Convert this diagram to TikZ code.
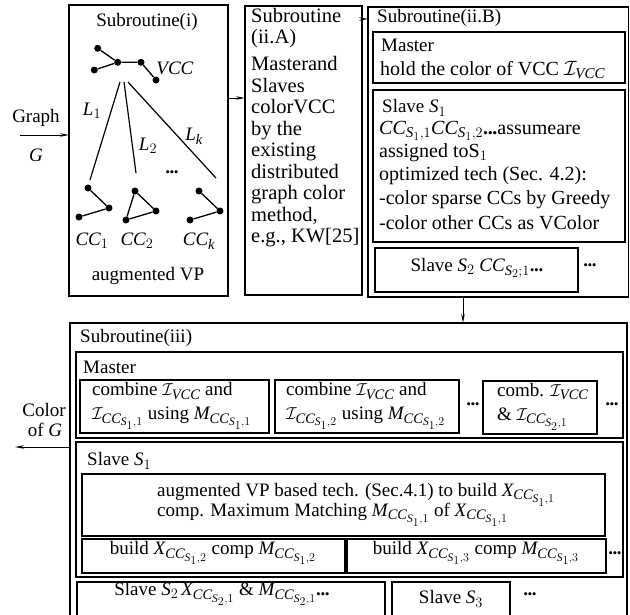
\documentclass[tikz,border=0pt]{standalone}
\usepackage{fontspec}
\usepackage{amsmath}
\setmainfont{Liberation Serif}
\DeclareMathSizes{19}{19}{14.5}{11.5}
\DeclareMathSizes{20}{20}{15}{12}
\usetikzlibrary{arrows.meta}
\newcommand\itx[1]{\textit{#1}}
\newcommand\vI{\mathcal{I}}
\newcommand\ccsub[2]{\itx{CC}_{\itx{S}_{#1},#2}}
\newcommand\mydots{\textbf{.\kern-0.02em.\kern-0.02em.}}
\newcommand\bx[6]{\node[#6,anchor=north west,minimum width={(#4-#2)*1pt},minimum height={(#5-#3)*1pt}] (#1) at (#2,#3) {};}
\tikzset{
  box/.style={draw, line width=1.6pt, inner sep=0pt, outer sep=0pt},
  ibox/.style={draw, line width=2pt, inner sep=0pt, outer sep=0pt},
  txt/.style={inner sep=0pt, font=\fontsize{19}{22}\selectfont},
  btxt/.style={inner sep=0pt, font=\fontsize{20}{22}\selectfont},
  dot/.style={circle, fill, inner sep=0pt, minimum size=7pt},
  edge/.style={line width=1.3pt},
  arr/.style={-{Stealth[length=9pt,width=3.5pt]}, line width=1pt}
}
\begin{document}
\begin{tikzpicture}[x=1pt,y=-1pt]
\useasboundingbox (0,0) rectangle (630,614);
\begin{scope}
\clip (0,0) rectangle (630,614);
% ---------- Subroutine (i)
\bx{bi}{69}{5}{228}{296}{box}
\node[txt] (ti) at (147,22) {Subroutine(i)};
\node[dot] (v1) at (97.7,48.3) {};
\node[dot] (v2) at (94.3,70) {};
\node[dot] (v3) at (117.7,62.3) {};
\node[dot] (v4) at (141,62.3) {};
\node[dot] (v5) at (156,80) {};
\draw[edge] (v1) -- (v3) (v2) -- (v3) (v3) -- (v4) (v4) -- (v5);
\node[txt] (tvcc) at (175,68) {\itx{VCC}};
\coordinate (l1a) at (120,82); \coordinate (l1b) at (90,180);
\coordinate (l2a) at (124,82); \coordinate (l2b) at (136,173);
\coordinate (lka) at (128,82); \coordinate (lkb) at (216,178);
\draw[line width=1.2pt] (l1a) -- (l1b) (l2a) -- (l2b) (lka) -- (lkb);
\node[txt] (tl1) at (92,111) {$\itx{L}_1$};
\node[txt] (tl2) at (148,146) {$\itx{L}_2$};
\node[txt] (tlk) at (194,136) {$\itx{L}_{\itx{k}}$};
\node[txt] (tdi) at (172,172) {\mydots};
\node[dot] (a1) at (88,188) {};
\node[dot] (a2) at (109,208) {};
\node[dot] (a3) at (79,217) {};
\draw[edge] (a1) -- (a2) (a3) -- (a2);
\node[dot] (b1) at (135,191) {};
\node[dot] (b2) at (156,211) {};
\node[dot] (b3) at (126,220) {};
\draw[edge] (b1) -- (b2) -- (b3) -- (b1);
\node[dot] (c1) at (199,191) {};
\node[dot] (c2) at (220,211) {};
\node[dot] (c3) at (190,220) {};
\draw[edge] (c1) -- (c2) (c3) -- (c2);
\node[txt] (tc1) at (92,241) {$\itx{CC}_1$};
\node[txt] (tc2) at (137,241) {$\itx{CC}_2$};
\node[txt] (tck) at (199,241) {$\itx{CC}_{\itx{k}}$};
\node[txt] (taug) at (148,276) {augmented VP};
% ---------- input arrow
\node[txt] (tgraph) at (36,118) {Graph};
\node[txt] (tG) at (36,155) {\itx{G}};
\coordinate (gin) at (20,135);
\draw[arr] (gin) -- (gin -| bi.west);
% ---------- Subroutine (ii.A)
\bx{biiA}{245}{6}{362}{295}{box}
\node[txt, anchor=north west, align=left, font=\fontsize{20.5}{21.5}\selectfont] (tiiA) at (251,8)
 {Subroutine\\(ii.A)\\[5.5pt]Masterand\\Slaves\\colorVCC\\by the\\existing\\distributed\\graph color\\method,\\e.g., KW[25]};
\coordinate (r1) at (0,98);
\draw[arr] (bi.east |- r1) -- (biiA.west |- r1);
% ---------- Subroutine (ii.B)
\bx{biiB}{368}{7}{628.5}{297}{box}
\coordinate (r2) at (0,19);
\draw[arr] (biiA.east |- r2) -- (biiB.west |- r2);
\node[txt, anchor=west] (tiiB) at (377,18) {Subroutine(ii.B)};
\bx{bm}{373}{32}{625}{83}{ibox}
\node[txt, anchor=west] (tm1) at (381,45) {Master};
\node[btxt, anchor=west] (tm2) at (380,70) {hold the color of VCC $\vI_{\itx{VCC}}$};
\bx{bs1}{373}{90}{625}{242}{ibox}
\node[txt, anchor=west] (ts1a) at (382,108) {Slave $\itx{S}_1$};
\node[btxt, anchor=west] (ts1b) at (379,131) {$\ccsub{1}{1}\ccsub{1}{2}$\mydots assumeare};
\node[btxt, anchor=west] (ts1c) at (379,153) {assigned toS$_1$};
\node[btxt, anchor=west] (ts1d) at (379,176) {optimized tech (Sec. 4.2):};
\node[btxt, anchor=west] (ts1e) at (379,200) {-color sparse CCs by Greedy};
\node[btxt, anchor=west] (ts1f) at (379,223) {-color other CCs as VColor};
\bx{bs2}{375}{248}{578}{292}{ibox}
\node[txt] (ts2) at (477,268) {Slave $\itx{S}_2$ $\itx{CC}_{\itx{S}_2;1}$\mydots};
\node[txt] (tdb) at (590,265) {\mydots};
% ---------- Subroutine (iii)
\bx{biii}{70}{323}{627}{660}{box}
\draw[arr] (biiB.south -| 463,0) -- (biii.north -| 463,0);
\node[txt, anchor=west] (tiii) at (80,338) {Subroutine(iii)};
\bx{bm3}{76}{352}{623}{438}{ibox}
\node[txt, anchor=west] (tm3) at (83,367) {Master};
\bx{cb1}{80}{380}{269}{433}{ibox}
\node[txt, anchor=base west] (tcb1a) at (92,395.5) {combine $\vI_{\itx{VCC}}$ and};
\node[txt, anchor=base west] (tcb1b) at (92,419.5) {$\vI_{\ccsub{1}{1}}$ using $\itx{M}_{\ccsub{1}{1}}$};
\bx{cb2}{275}{380}{459}{433}{ibox}
\node[txt, anchor=base west] (tcb2a) at (286,395.5) {combine $\vI_{\itx{VCC}}$ and};
\node[txt, anchor=base west] (tcb2b) at (286,419.5) {$\vI_{\ccsub{1}{2}}$ using $\itx{M}_{\ccsub{1}{2}}$};
\node[txt] (td1) at (473,404) {\mydots};
\bx{cb3}{483}{381}{597}{434}{ibox}
\node[txt, anchor=base west] (tcb3a) at (497,396) {comb. $\vI_{\itx{VCC}}$};
\node[txt, anchor=base west] (tcb3b) at (497,420) {\& $\vI_{\ccsub{2}{1}}$};
\node[txt] (td2) at (612,404) {\mydots};
\bx{bs31}{76}{442}{623}{577}{ibox}
\node[txt, anchor=west] (ts31) at (87,461) {Slave $\itx{S}_1$};
\bx{baug}{82}{474}{605}{536}{ibox}
\node[txt, anchor=base west] (taug2a) at (157,496) {augmented VP based tech. (Sec.4.1) to build $\itx{X}_{\ccsub{1}{1}}$};
\node[txt, anchor=base west] (taug2b) at (157,516) {comp. Maximum Matching $\itx{M}_{\ccsub{1}{1}}$ of $\itx{X}_{\ccsub{1}{1}}$};
\bx{bb1}{82}{539}{345}{573}{ibox}
\node[txt] (tb1) at (213,553) {build $\itx{X}_{\ccsub{1}{2}}$ comp $\itx{M}_{\ccsub{1}{2}}$};
\bx{bb2}{347}{539}{606}{573}{ibox}
\node[txt] (tb2) at (476,553) {build $\itx{X}_{\ccsub{1}{3}}$ comp $\itx{M}_{\ccsub{1}{3}}$};
\node[txt] (td3) at (615,553) {\mydots};
\bx{bs32}{77}{582}{385}{660}{ibox}
\node[txt] (ts32) at (222,594) {Slave $\itx{S}_2\,\itx{X}_{\ccsub{2}{1}}$ \& $\itx{M}_{\ccsub{2}{1}}$\mydots};
\bx{bs33}{392}{582}{510}{660}{ibox}
\node[txt] (ts33) at (451,599) {Slave $\itx{S}_3$};
\node[txt] (td4) at (530,594) {\mydots};
% ---------- output
\node[txt] (tcol) at (44,410) {Color};
\node[txt] (tofg) at (45,430) {of \itx{G}};
\coordinate (gout) at (15,447);
\draw[arr] (gout -| biii.west) -- (gout);
\end{scope}
\end{tikzpicture}
\end{document}
